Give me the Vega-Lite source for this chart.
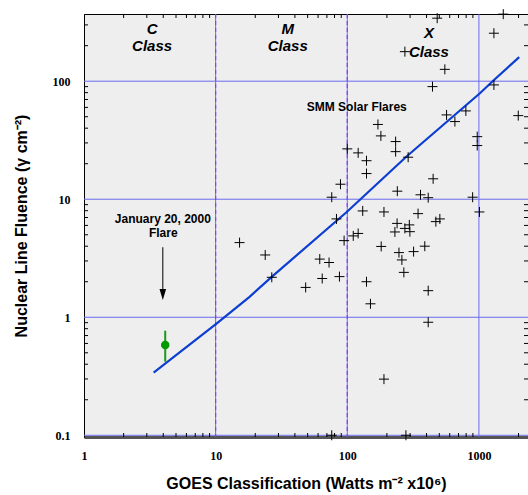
{
  "$schema": "https://vega.github.io/schema/vega-lite/v6.json",
  "width": 444,
  "height": 423,
  "autosize": "none",
  "padding": {"left": 84, "top": 14, "right": 0, "bottom": 58},
  "background": "white",
  "config": {
    "view": {"fill": "#eeeeee", "stroke": "black", "strokeWidth": 1},
    "axis": {"labelFont": "Liberation Serif", "labelFontWeight": "bold", "labelFontSize": 12, "labelColor": "black", "titleFont": "Liberation Sans", "titleFontWeight": "bold", "titleFontSize": 16, "titleColor": "black", "ticks": false, "grid": false, "labelFlush": false, "labelOverlap": false},
    "tick": {"thickness": 1, "color": "black", "opacity": 1}
  },
  "datasets": {
    "classes": [{"g": 10}, {"g": 100}],
    "vgrid": [{"g": 10}, {"g": 100}, {"g": 1000}],
    "hgrid": [{"f": 0.1}, {"f": 1}, {"f": 10}, {"f": 100}],
    "xminor": [{"g": 2}, {"g": 3}, {"g": 4}, {"g": 5}, {"g": 6}, {"g": 7}, {"g": 8}, {"g": 9}, {"g": 20}, {"g": 30}, {"g": 40}, {"g": 50}, {"g": 60}, {"g": 70}, {"g": 80}, {"g": 90}, {"g": 200}, {"g": 300}, {"g": 400}, {"g": 500}, {"g": 600}, {"g": 700}, {"g": 800}, {"g": 900}, {"g": 2000}],
    "yminor": [{"f": 0.2}, {"f": 0.3}, {"f": 0.4}, {"f": 0.5}, {"f": 0.6}, {"f": 0.7}, {"f": 0.8}, {"f": 0.9}, {"f": 2}, {"f": 3}, {"f": 4}, {"f": 5}, {"f": 6}, {"f": 7}, {"f": 8}, {"f": 9}, {"f": 20}, {"f": 30}, {"f": 40}, {"f": 50}, {"f": 60}, {"f": 70}, {"f": 80}, {"f": 90}, {"f": 200}, {"f": 300}],
    "flares": [
      {"g": 482, "f": 342}, {"g": 1531, "f": 370}, {"g": 1300, "f": 255}, {"g": 274, "f": 178},
      {"g": 551, "f": 126}, {"g": 444, "f": 90}, {"g": 1300, "f": 93}, {"g": 568, "f": 51.8},
      {"g": 657, "f": 45.5}, {"g": 796, "f": 56}, {"g": 1990, "f": 51.1}, {"g": 971, "f": 33.9},
      {"g": 971, "f": 28.5}, {"g": 171, "f": 43}, {"g": 180, "f": 34.4}, {"g": 233, "f": 30.8},
      {"g": 233, "f": 25.3}, {"g": 290, "f": 22.7}, {"g": 100, "f": 26.7}, {"g": 121, "f": 24.7},
      {"g": 140, "f": 21.2}, {"g": 140, "f": 16.5}, {"g": 88.8, "f": 13.4}, {"g": 76.2, "f": 10.4},
      {"g": 449, "f": 14.9}, {"g": 240, "f": 11.7}, {"g": 360, "f": 10.9}, {"g": 412, "f": 10.3},
      {"g": 896, "f": 10.4}, {"g": 1009, "f": 7.8}, {"g": 131, "f": 7.96}, {"g": 190, "f": 7.8},
      {"g": 345, "f": 7.55}, {"g": 82.8, "f": 6.81}, {"g": 471, "f": 6.46}, {"g": 505, "f": 6.81},
      {"g": 239, "f": 6.24}, {"g": 296, "f": 6.06}, {"g": 274, "f": 5.66}, {"g": 299, "f": 5.31},
      {"g": 230, "f": 5.28}, {"g": 94.6, "f": 4.46}, {"g": 111, "f": 4.89}, {"g": 121, "f": 5.13},
      {"g": 181, "f": 3.98}, {"g": 388, "f": 4.0}, {"g": 247, "f": 3.53}, {"g": 319, "f": 3.6},
      {"g": 260, "f": 3.06}, {"g": 269, "f": 2.4}, {"g": 412, "f": 1.68}, {"g": 412, "f": 0.907},
      {"g": 150, "f": 1.3}, {"g": 190, "f": 0.299}, {"g": 76.2, "f": 0.1}, {"g": 279, "f": 0.1},
      {"g": 15.2, "f": 4.29}, {"g": 23.8, "f": 3.37}, {"g": 26.7, "f": 2.18}, {"g": 48.3, "f": 1.79},
      {"g": 61.8, "f": 3.11}, {"g": 72.7, "f": 2.91}, {"g": 64.5, "f": 2.13}, {"g": 87.2, "f": 2.21},
      {"g": 140, "f": 2.0}
    ],
    "fit": [
      {"g": 3.38, "f": 0.339}, {"g": 10.1, "f": 0.877}, {"g": 18.1, "f": 1.49}, {"g": 26.8, "f": 2.21},
      {"g": 98.6, "f": 7.76}, {"g": 282, "f": 23.0}, {"g": 1018, "f": 79.1}, {"g": 1271, "f": 100},
      {"g": 2024, "f": 160}
    ],
    "jan2000": [{"g": 4.14, "f": 0.582, "lo": 0.42, "hi": 0.769}],
    "arrow": [{"g": 3.97, "top": 3.92, "head": 1.56}],
    "classText": [
      {"g": 3.29, "f": 276, "t": "C"}, {"g": 3.29, "f": 199, "t": "Class"},
      {"g": 35.3, "f": 276, "t": "M"}, {"g": 35.3, "f": 199, "t": "Class"},
      {"g": 417, "f": 255, "t": "X"}, {"g": 417, "f": 178, "t": "Class"}
    ],
    "notes": [
      {"g": 118, "f": 60.2, "t": "SMM Solar Flares"},
      {"g": 3.97, "f": 6.81, "t": "January 20, 2000"},
      {"g": 4.0, "f": 5.15, "t": "Flare"}
    ]
  },
  "layer": [
    {
      "data": {"name": "vgrid"},
      "mark": {"type": "rule", "color": "#6b6bef", "strokeWidth": 1},
      "encoding": {
        "x": {
          "field": "g", "type": "quantitative",
          "scale": {"type": "log", "domain": [1, 2360], "nice": false},
          "axis": {
            "orient": "bottom",
            "values": [1, 10, 100, 1000],
            "labelExpr": "datum.value + ''",
            "domainColor": "#555555", "domainWidth": 3,
            "labelPadding": 13,
            "title": "GOES Classification (Watts m⁻² x10⁶)", "titlePadding": 14
          }
        }
      }
    },
    {
      "data": {"name": "hgrid"},
      "mark": {"type": "rule", "color": "#6b6bef", "strokeWidth": 1},
      "encoding": {
        "y": {
          "field": "f", "type": "quantitative",
          "scale": {"type": "log", "domain": [0.0967, 371], "nice": false},
          "axis": {
            "orient": "left",
            "values": [0.1, 1, 10, 100],
            "labelExpr": "datum.value + ''",
            "domainColor": "black", "domainWidth": 1,
            "labelPadding": 14,
            "title": "Nuclear Line Fluence (γ cm⁻²)", "titlePadding": 23
          }
        }
      }
    },
    {
      "data": {"name": "xminor"},
      "mark": {"type": "tick", "orient": "vertical", "size": 8, "clip": true},
      "encoding": {
        "x": {"field": "g", "type": "quantitative", "axis": null},
        "y": {"datum": 0.0967, "type": "quantitative", "axis": null}
      }
    },
    {
      "data": {"name": "xminor"},
      "mark": {"type": "tick", "orient": "vertical", "size": 8, "clip": true},
      "encoding": {
        "x": {"field": "g", "type": "quantitative", "axis": null},
        "y": {"datum": 371, "type": "quantitative", "axis": null}
      }
    },
    {
      "data": {"name": "yminor"},
      "mark": {"type": "tick", "orient": "horizontal", "size": 8, "clip": true},
      "encoding": {
        "y": {"field": "f", "type": "quantitative", "axis": null},
        "x": {"datum": 1, "type": "quantitative", "axis": null}
      }
    },
    {
      "data": {"name": "yminor"},
      "mark": {"type": "tick", "orient": "horizontal", "size": 8, "clip": true},
      "encoding": {
        "y": {"field": "f", "type": "quantitative", "axis": null},
        "x": {"datum": 2360, "type": "quantitative", "axis": null}
      }
    },
    {
      "data": {"name": "classes"},
      "mark": {"type": "rule", "color": "#9933ff", "strokeDash": [4, 3], "strokeWidth": 1.2},
      "encoding": {
        "x": {"field": "g", "type": "quantitative", "axis": null}
      }
    },
    {
      "data": {"name": "fit"},
      "mark": {"type": "line", "color": "#0d3ed2", "strokeWidth": 2.2},
      "encoding": {
        "x": {"field": "g", "type": "quantitative", "axis": null},
        "y": {"field": "f", "type": "quantitative", "axis": null}
      }
    },
    {
      "data": {"name": "flares"},
      "mark": {"type": "point", "shape": "M-1,0H1M0,-1V1", "filled": false, "stroke": "black", "strokeWidth": 1, "size": 100, "opacity": 1},
      "encoding": {
        "x": {"field": "g", "type": "quantitative", "axis": null},
        "y": {"field": "f", "type": "quantitative", "axis": null}
      }
    },
    {
      "data": {"name": "jan2000"},
      "mark": {"type": "rule", "color": "#1a9a1a", "strokeWidth": 2},
      "encoding": {
        "x": {"field": "g", "type": "quantitative", "axis": null},
        "y": {"field": "lo", "type": "quantitative", "axis": null},
        "y2": {"field": "hi"}
      }
    },
    {
      "data": {"name": "jan2000"},
      "mark": {"type": "point", "shape": "circle", "filled": true, "color": "#009a00", "size": 72, "opacity": 1},
      "encoding": {
        "x": {"field": "g", "type": "quantitative", "axis": null},
        "y": {"field": "f", "type": "quantitative", "axis": null}
      }
    },
    {
      "data": {"name": "arrow"},
      "mark": {"type": "rule", "color": "black", "strokeWidth": 1},
      "encoding": {
        "x": {"field": "g", "type": "quantitative", "axis": null},
        "y": {"field": "top", "type": "quantitative", "axis": null},
        "y2": {"field": "head"}
      }
    },
    {
      "data": {"name": "arrow"},
      "mark": {"type": "point", "shape": "M-0.6,-1L0.6,-1L0,1Z", "filled": true, "color": "black", "size": 121, "opacity": 1},
      "encoding": {
        "x": {"field": "g", "type": "quantitative", "axis": null},
        "y": {"field": "head", "type": "quantitative", "axis": null}
      }
    },
    {
      "data": {"name": "classText"},
      "mark": {"type": "text", "font": "Liberation Sans", "fontSize": 15, "fontWeight": "bold", "fontStyle": "italic", "color": "black", "baseline": "middle", "align": "center"},
      "encoding": {
        "x": {"field": "g", "type": "quantitative", "axis": null},
        "y": {"field": "f", "type": "quantitative", "axis": null},
        "text": {"field": "t"}
      }
    },
    {
      "data": {"name": "notes"},
      "mark": {"type": "text", "font": "Liberation Sans", "fontSize": 12, "fontWeight": "bold", "color": "black", "baseline": "middle", "align": "center"},
      "encoding": {
        "x": {"field": "g", "type": "quantitative", "axis": null},
        "y": {"field": "f", "type": "quantitative", "axis": null},
        "text": {"field": "t"}
      }
    }
  ],
  "resolve": {"axis": {"x": "independent", "y": "independent"}}
}
